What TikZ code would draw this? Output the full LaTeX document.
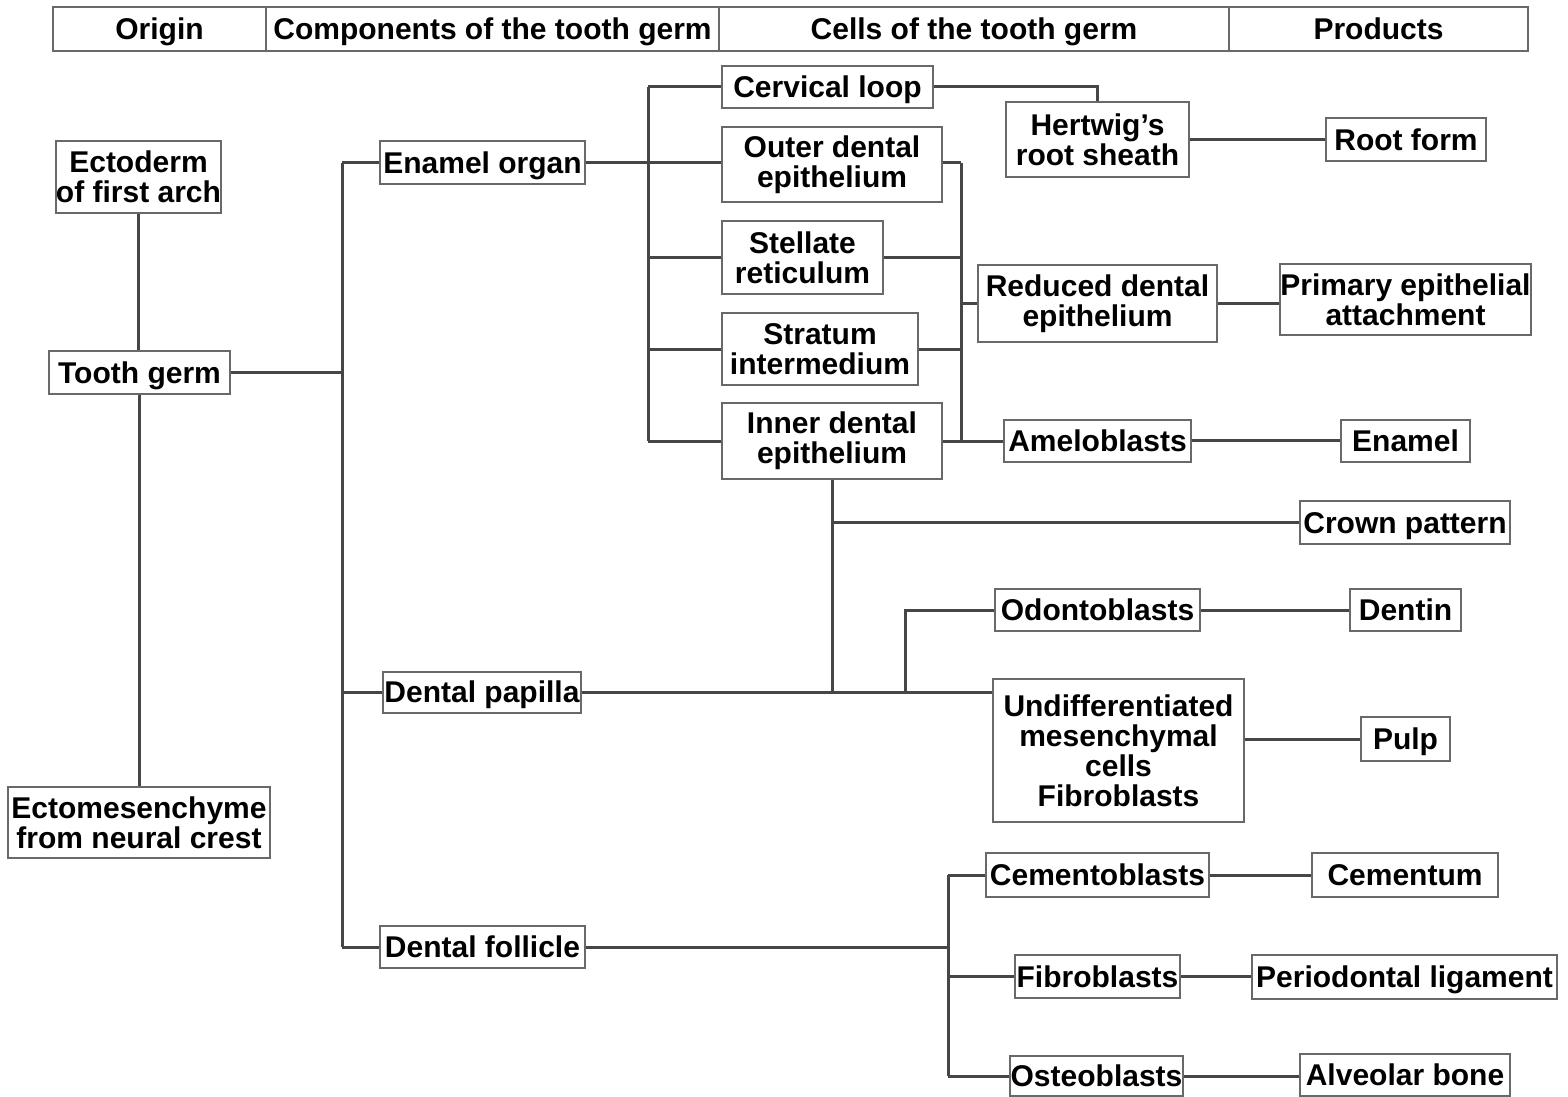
\documentclass[tikz,border=0pt]{standalone}
\usepackage{fontspec}
\setmainfont{Liberation Sans}
\definecolor{boxline}{RGB}{105,105,105}
\definecolor{conline}{RGB}{70,70,70}
\begin{document}
\begin{tikzpicture}[x=1pt,y=-1pt,
  box/.style={draw=boxline, line width=2pt, fill=white, inner sep=0pt, align=center,
    font=\fontsize{30}{30}\selectfont\bfseries, text=black},
  sl/.style={text height=24pt, text depth=3pt},
  hdr/.style={draw=boxline, line width=2pt, inner sep=0pt, text height=24pt, text depth=3pt,
    font=\fontsize{30}{30}\selectfont\bfseries, text=black},
  con/.style={draw=conline, line width=3pt}]
\path[use as bounding box, fill=white] (0,0) rectangle (1568,1097);

% header
\node[hdr, minimum width=213, minimum height=44] (h1) at (159.5,29) {Origin};
\node[hdr, minimum width=453, minimum height=44] (h2) at (492.5,29) {Components of the tooth germ};
\node[hdr, minimum width=510, minimum height=44] (h3) at (974,29) {Cells of the tooth germ};
\node[hdr, minimum width=299, minimum height=44] (h4) at (1378.5,29) {Products};

% bus coordinates
\coordinate (b1) at (342,0);
\coordinate (b2) at (648,0);
\coordinate (b3) at (961,0);
\coordinate (b4) at (905,0);
\coordinate (b6) at (948,0);

% nodes
\node[box, minimum width=163, minimum height=72] (ecto) at (138.5,177) {Ectoderm\\of first arch};
\node[box, sl, minimum width=181, minimum height=43] (tg) at (139.5,372.5) {Tooth germ};
\node[box, minimum width=262, minimum height=71] (mes) at (139,822.5) {Ectomesenchyme\\from neural crest};

\node[box, sl, minimum width=205, minimum height=43] (eo) at (482.5,162.5) {Enamel organ};
\node[box, sl, minimum width=198, minimum height=41] (dp) at (482,692) {Dental papilla};
\node[box, sl, minimum width=205, minimum height=42] (df) at (482.5,947) {Dental follicle};

\node[box, sl, minimum width=211, minimum height=42] (cl) at (827.5,87) {Cervical loop};
\node[box, minimum width=220, minimum height=75] (ode) at (832,164.5) {Outer dental\\epithelium};
\node[box, minimum width=161, minimum height=73] (sr) at (802.5,257.5) {Stellate\\reticulum};
\node[box, minimum width=196, minimum height=72] (si) at (820,349) {Stratum\\intermedium};
\node[box, minimum width=220, minimum height=76] (ide) at (832,441) {Inner dental\\epithelium};

\node[box, minimum width=183, minimum height=75] (hrs) at (1097.5,139.5) {Hertwig's\\root sheath};
\node[box, sl, minimum width=160, minimum height=42] (rf) at (1406,139.5) {Root form};
\node[box, minimum width=239, minimum height=77] (rde) at (1097.5,303.5) {Reduced dental\\epithelium};
\node[box, minimum width=247, minimum height=71] (pea) at (1405.5,299.5) {Primary epithelial\\attachment};
\node[box, sl, minimum width=187, minimum height=42] (amel) at (1097.5,440.5) {Ameloblasts};
\node[box, sl, minimum width=129, minimum height=42] (enamel) at (1405.5,440.5) {Enamel};
\node[box, sl, minimum width=210, minimum height=43] (cp) at (1405,522.5) {Crown pattern};

\node[box, sl, minimum width=205, minimum height=42] (odo) at (1097.5,610) {Odontoblasts};
\node[box, sl, minimum width=111, minimum height=42] (dentin) at (1405.5,610) {Dentin};
\node[box, minimum width=251, minimum height=143] (umc) at (1118.5,750.5) {Undifferentiated\\mesenchymal\\cells\\Fibroblasts};
\node[box, sl, minimum width=89, minimum height=44] (pulp) at (1405.5,739) {Pulp};

\node[box, sl, minimum width=223, minimum height=44] (cb) at (1097.5,875) {Cementoblasts};
\node[box, sl, minimum width=186, minimum height=44] (cem) at (1405,875) {Cementum};
\node[box, sl, minimum width=165, minimum height=43] (fb) at (1097.5,976.5) {Fibroblasts};
\node[box, sl, minimum width=305, minimum height=44] (pdl) at (1404.5,977) {Periodontal ligament};
\node[box, sl, minimum width=173, minimum height=40] (ob) at (1096.5,1076) {Osteoblasts};
\node[box, sl, minimum width=210, minimum height=42] (ab) at (1405,1075) {Alveolar bone};

% connectors
% origin column
\path[con] (ecto.south) -- (ecto.south |- tg.north);
\path[con] (tg.south) -- (tg.south |- mes.north);
\path[con] (tg.east) -- (tg.east -| b1);
\path[con] (b1 |- eo.west) -- (b1 |- df.west);
\path[con] (b1 |- eo.west) -- (eo.west);
\path[con] (b1 |- dp.west) -- (dp.west);
\path[con] (b1 |- df.west) -- (df.west);
% enamel organ
\path[con] (eo.east) -- (eo.east -| b2);
\path[con] (b2 |- cl.west) -- (b2 |- ide.west);
\path[con] (b2 |- cl.west) -- (cl.west);
\path[con] (b2 |- eo.east) -- (eo.east -| ode.west);
\path[con] (b2 |- sr.west) -- (sr.west);
\path[con] (b2 |- si.west) -- (si.west);
\path[con] (b2 |- ide.west) -- (ide.west);
% right bus of enamel organ cells
\path[con] (ode.east |- eo.east) -- (eo.east -| b3);
\path[con] (b3 |- eo.east) -- (b3 |- ide.east);
\path[con] (sr.east) -- (sr.east -| b3);
\path[con] (si.east) -- (si.east -| b3);
\path[con] (ide.east) -- (ide.east -| amel.west);
\path[con] (b3 |- rde.west) -- (rde.west);
% products
\path[con] (cl.east) -| (hrs.north);
\path[con] (hrs.east) -- (hrs.east -| rf.west);
\path[con] (rde.east) -- (rde.east -| pea.west);
\path[con] (amel.east) -- (amel.east -| enamel.west);
% inner dental epithelium down
\path[con] (ide.south) -- (ide.south |- dp.east);
\path[con] (ide.south |- cp.west) -- (cp.west);
% dental papilla
\path[con] (dp.east) -- (dp.east -| umc.west);
\path[con] (b4 |- dp.east) |- (odo.west);
\path[con] (odo.east) -- (odo.east -| dentin.west);
\path[con] (pulp.west -| umc.east) -- (pulp.west);
% dental follicle
\path[con] (df.east) -- (df.east -| b6);
\path[con] (b6 |- cb.west) -- (b6 |- ob.west);
\path[con] (b6 |- cb.west) -- (cb.west);
\path[con] (b6 |- fb.west) -- (fb.west);
\path[con] (b6 |- ob.west) -- (ob.west);
\path[con] (cb.east) -- (cb.east -| cem.west);
\path[con] (fb.east) -- (fb.east -| pdl.west);
\path[con] (ob.east) -- (ob.east -| ab.west);
\end{tikzpicture}
\end{document}
